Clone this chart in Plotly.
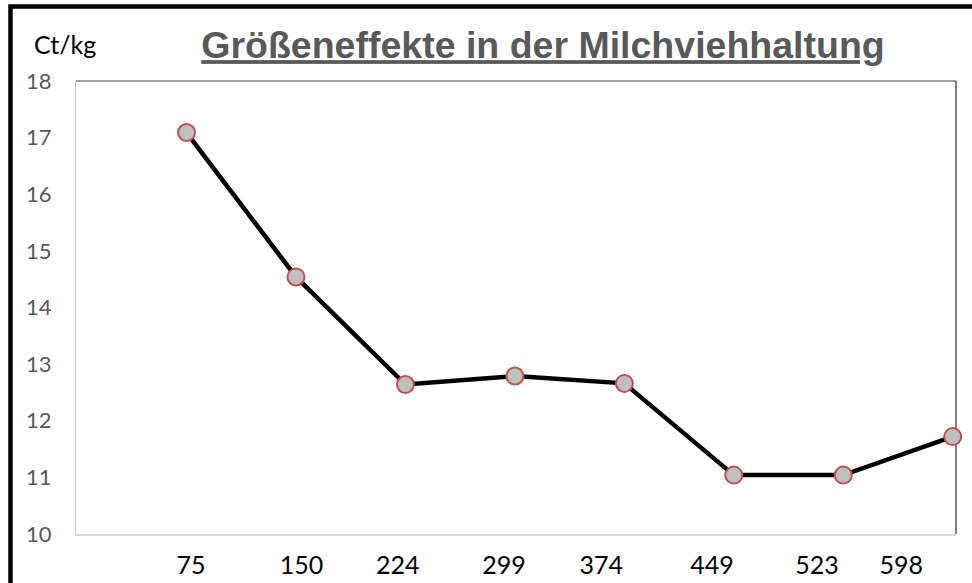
import plotly.graph_objects as go

# ---- data ----
herd_sizes = ["75", "150", "224", "299", "374", "449", "523", "598"]
cost_ct_per_kg = [17.09, 14.54, 12.64, 12.79, 12.66, 11.04, 11.04, 11.72]
y_tick_values = [10, 11, 12, 13, 14, 15, 16, 17, 18]
title_text = "Größeneffekte in der Milchviehhaltung"
unit_label = "Ct/kg"

# ---- layout helpers (label slots as placed in the original chart) ----
label_slots = [0.04, 1.05, 1.93, 2.90, 3.79, 4.80, 5.76, 6.53]

W, H = 972, 583
ML, MR, MT, MB = 76, 16, 81, 49
PW, PH = W - ML - MR, H - MT - MB


def px_x(px):
    return (px - ML) / PW


def px_y(py):
    return (H - MB - py) / PH


x_index = list(range(len(herd_sizes)))

fig = go.Figure(
    go.Scatter(
        x=x_index,
        y=cost_ct_per_kg,
        mode="lines+markers",
        line=dict(color="black", width=4.5),
        marker=dict(size=17, color="#BFBFBF", line=dict(color="#C0504D", width=2)),
        cliponaxis=False,
        hoverinfo="skip",
    )
)

fig.update_layout(
    width=W,
    height=H,
    margin=dict(l=ML, r=MR, t=MT, b=MB, pad=0, autoexpand=False),
    paper_bgcolor="white",
    plot_bgcolor="white",
    showlegend=False,
    title=dict(
        text="<b><u>" + title_text + "</u></b>",
        font=dict(family="Liberation Sans, Arial, sans-serif", size=37.5, color="#595959"),
        x=543 / W,
        xanchor="center",
        y=1 - 45 / H,
        yanchor="middle",
    ),
    xaxis=dict(
        range=[-1.01, 7.03],
        tickmode="array",
        tickvals=label_slots,
        ticktext=herd_sizes,
        automargin=False,
        showgrid=False,
        zeroline=False,
        showline=True,
        linecolor="#D9D9D9",
        linewidth=2,
        ticks="",
        ticklabelstandoff=8,
        tickfont=dict(family="Lato, sans-serif", size=25, color="black"),
    ),
    yaxis=dict(
        range=[10, 18],
        tickmode="array",
        tickvals=y_tick_values,
        automargin=False,
        showgrid=False,
        zeroline=False,
        showline=True,
        linecolor="#C8C8C8",
        linewidth=1,
        ticks="",
        ticklabelstandoff=19,
        tickfont=dict(family="Lato, sans-serif", size=22, color="#595959"),
    ),
    shapes=[
        # outer chart frame (left + top visible)
        dict(type="rect", xref="paper", yref="paper",
             x0=px_x(10.5), x1=1.3, y0=-0.4, y1=px_y(6.5),
             line=dict(color="black", width=4.5), layer="above"),
        # plot-area border top and right
        dict(type="line", xref="paper", yref="paper", x0=0, x1=1, y0=1, y1=1,
             line=dict(color="#404040", width=1), layer="below"),
        dict(type="line", xref="paper", yref="paper", x0=1, x1=1, y0=0, y1=1,
             line=dict(color="black", width=1), layer="below"),
    ],
    annotations=[
        dict(text=unit_label, xref="paper", yref="paper",
             x=px_x(32), y=px_y(44), xanchor="left", yanchor="middle",
             showarrow=False,
             font=dict(family="Lato, sans-serif", size=25, color="black")),
    ],
)

fig.write_html(
    "out.html",
    config={"displayModeBar": False, "staticPlot": True},
    post_script=(
        "var s=document.documentElement.style;s.margin='0';s.padding='0';"
        "s.overflow='hidden';s.height='583px';"
        "var b=document.body.style;b.margin='0';b.padding='0';"
        "b.overflow='hidden';b.height='583px';"
    ),
)
